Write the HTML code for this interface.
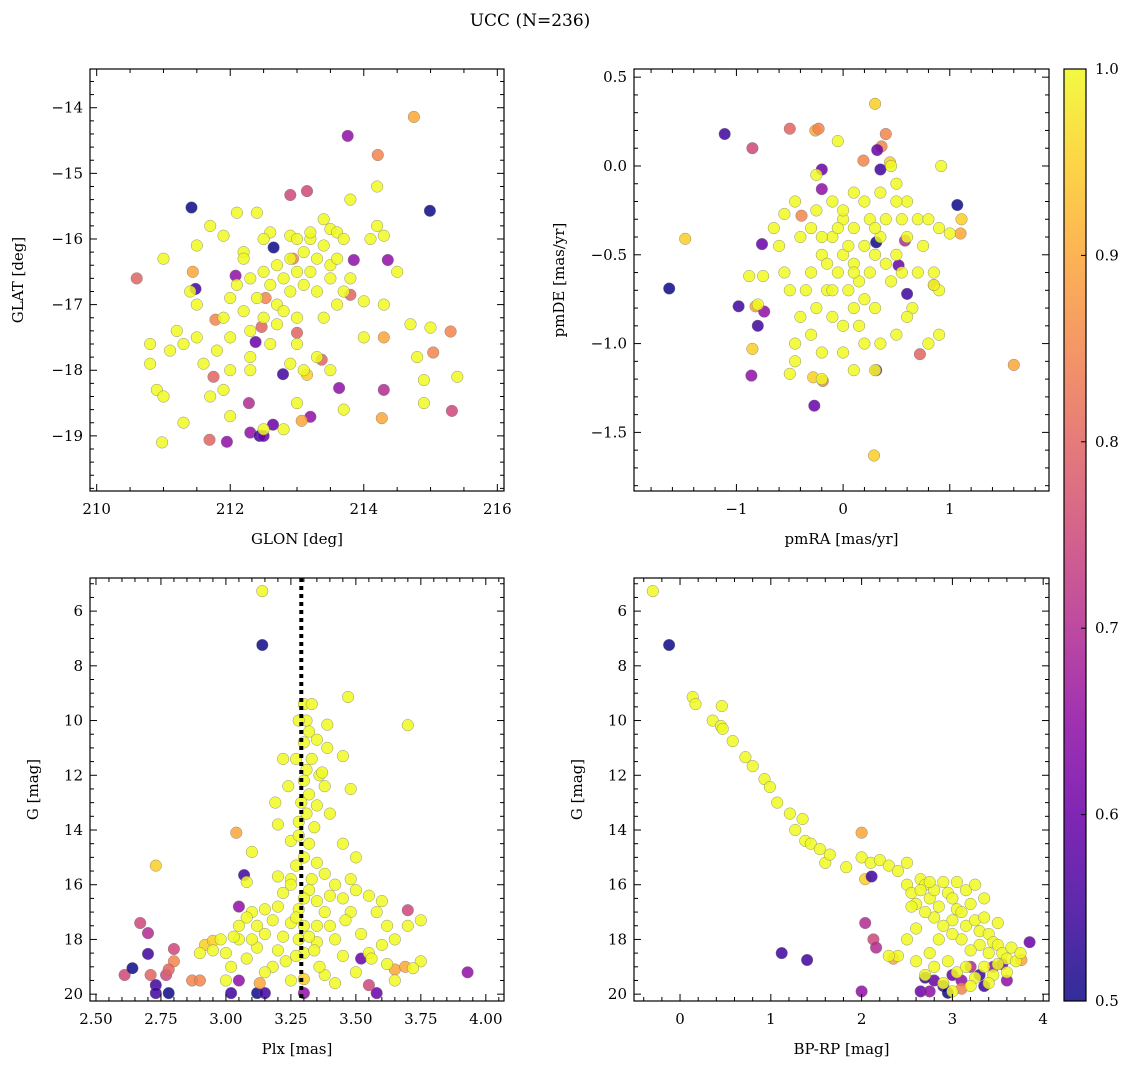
<!DOCTYPE html>
<html><head><meta charset="utf-8"><style>
html,body{margin:0;padding:0;background:#fff;}
svg text{font-family:"DejaVu Serif","Liberation Serif",serif;fill:#000;}
</style></head><body>
<svg id="chart" width="1136" height="1068" viewBox="0 0 1136 1068" xmlns="http://www.w3.org/2000/svg">
<defs><linearGradient id="cbgrad" x1="0" y1="1" x2="0" y2="0"></linearGradient></defs>
<text x="530" y="26" font-size="17" text-anchor="middle">UCC (N=236)</text>
</svg>
<script>
// ---- Panel 1: GLON / GLAT ----
const p1Lon = [211.42,211.48,214.99,213.76,214.75,214.21,210.6,212.9,213.15,212.65,212.08,214.36,212.38,212.79,214.3,213.63,212.28,212.3,212.44,212.64,212.5,211.95,211.69,213.2,213.07,213.15,215.04,215.3,215.32,214.27,211.78,211.75,211.44,214.3,213.8,212.53,213.0,213.37,213.85,212.94,212.47,
212.4,212.6,212.9,213.0,213.2,213.4,213.5,213.6,213.7,213.8,213.4,213.3,213.1,212.9,212.7,212.5,212.3,212.1,212.0,212.2,212.4,212.6,212.8,213.0,213.2,213.5,213.6,213.3,213.1,212.9,212.7,212.5,212.3,212.0,211.8,211.5,211.3,211.2,211.1,210.8,210.8,210.9,211.0,211.3,210.98,211.9,212.0,212.5,212.8,213.0,213.5,213.7,213.3,213.0,212.7,212.3,212.0,211.6,211.7,211.0,211.5,211.7,212.1,211.9,212.2,212.2,214.2,214.1,214.3,214.5,214.0,214.3,214.7,214.8,214.9,214.9,215.4,215.0,214.0,213.6,213.8,213.7,212.6,212.9,213.1,212.3,211.5,211.9,211.4,212.5,213.5,213.2,214.2,213.0,212.8,213.4];
const p1Lat = [-15.52,-16.76,-15.57,-14.43,-14.14,-14.72,-16.6,-15.33,-15.27,-16.13,-16.56,-16.32,-17.57,-18.06,-18.3,-18.27,-18.5,-18.95,-19.0,-18.83,-19.0,-19.09,-19.06,-18.71,-18.77,-18.07,-17.73,-17.41,-18.62,-18.73,-17.23,-18.1,-16.5,-17.5,-16.85,-16.9,-17.43,-17.84,-16.32,-16.3,-17.34,
-15.6,-15.9,-15.95,-16.0,-16.0,-15.7,-15.85,-15.9,-16.0,-15.4,-16.1,-16.3,-16.2,-16.3,-16.4,-16.5,-16.6,-16.7,-16.9,-17.1,-16.9,-16.7,-16.6,-16.5,-16.5,-16.4,-16.3,-16.8,-16.7,-16.8,-17.0,-17.2,-17.4,-17.5,-17.7,-17.5,-17.6,-17.4,-17.7,-17.6,-17.9,-18.3,-18.4,-18.8,-19.1,-18.3,-18.7,-18.9,-18.9,-18.5,-18.0,-18.6,-17.8,-17.6,-17.3,-17.8,-18.0,-17.9,-18.4,-16.3,-16.1,-15.8,-15.6,-15.95,-16.2,-16.3,-15.8,-16.0,-15.95,-16.5,-16.95,-17.0,-17.3,-17.8,-18.15,-18.5,-18.1,-17.35,-17.5,-17.0,-16.6,-16.8,-17.6,-17.9,-18.0,-18.0,-17.0,-17.2,-16.8,-16.0,-16.6,-15.9,-15.2,-17.2,-17.1,-17.2];
const p1Prob = [0.5,0.55,0.5,0.65,0.9,0.85,0.8,0.75,0.75,0.5,0.65,0.65,0.6,0.55,0.7,0.65,0.7,0.65,0.55,0.6,0.6,0.65,0.8,0.65,0.9,0.95,0.85,0.85,0.75,0.9,0.85,0.8,0.9,0.9,0.8,0.85,0.8,0.8,0.65,0.85,0.8];
// ---- Panel 2: pmRA / pmDE ----
const p2Ra = [-1.11,-1.63,-0.98,-0.82,1.6,0.29,-1.48,1.07,-0.85,-0.5,-0.26,-0.23,0.3,0.4,0.19,0.36,0.44,0.32,0.35,-0.2,-0.2,-0.76,-0.74,-0.8,-0.85,-0.86,-0.27,-0.19,-0.28,0.31,0.72,0.31,0.58,0.52,0.6,0.85,-0.39,1.1,1.11,
0,0.1,-0.1,0.2,-0.2,0,0.1,-0.05,0.15,-0.15,0.05,0.25,0.3,0.35,0.4,-0.3,-0.35,-0.25,-0.1,0,0.1,0.2,0.3,0.45,0.5,0.55,0.6,0.7,0.8,0.9,0.75,0.7,0.65,0.6,0.85,0.9,0.9,0.8,0.5,0.35,0.2,0,-0.2,-0.3,-0.45,-0.45,-0.5,-0.4,-0.5,-0.55,-0.6,-0.65,-0.75,-0.88,-0.8,-0.55,-0.45,-0.25,-0.3,-0.4,-0.25,0.1,0,-0.1,0.2,0.35,0.45,0.5,0.5,0.92,0.6,0.25,0.3,-0.05,0.1,0.15,-0.15,0.05,-0.05,0.4,0.55,0.3,-0.2,0.85,1.0,-0.2,0.1,-0.1];
const p2De = [0.18,-0.69,-0.79,-0.79,-1.12,-1.63,-0.41,-0.22,0.1,0.21,0.2,0.21,0.35,0.18,0.03,0.11,0.02,0.09,-0.02,-0.02,-0.13,-0.44,-0.82,-0.9,-1.03,-1.18,-1.35,-1.21,-1.19,-1.15,-1.06,-0.43,-0.42,-0.56,-0.72,-0.67,-0.28,-0.38,-0.3,
-0.3,-0.35,-0.4,-0.45,-0.5,-0.5,-0.55,-0.6,-0.65,-0.7,-0.7,-0.6,-0.5,-0.4,-0.3,-0.6,-0.7,-0.8,-0.85,-0.9,-0.8,-0.75,-0.8,-0.65,-0.5,-0.3,-0.2,-0.3,-0.3,-0.35,-0.45,-0.6,-0.8,-0.85,-0.6,-0.7,-0.95,-1.0,-0.95,-1.0,-1.0,-1.05,-1.05,-0.95,-1.0,-1.1,-1.17,-0.85,-0.7,-0.6,-0.45,-0.35,-0.62,-0.62,-0.78,-0.27,-0.2,-0.25,-0.35,-0.4,-0.05,-0.15,-0.25,-0.2,-0.2,-0.15,0.0,-0.1,-0.2,0.0,-0.4,-0.3,-0.35,0.14,-1.15,-0.9,-0.55,-0.45,-0.35,-0.55,-0.6,-1.15,-1.2,-0.67,-0.38,-0.4,-0.6,-0.7];
const p2Prob = [0.55,0.5,0.55,0.9,0.9,0.95,0.95,0.5,0.75,0.8,0.9,0.85,0.95,0.85,0.85,0.85,0.95,0.6,0.55,0.6,0.65,0.6,0.65,0.55,0.95,0.65,0.6,0.85,0.95,0.65,0.8,0.5,0.7,0.6,0.55,0.8,0.85,0.9,0.95];
// ---- Panel 3: Plx / G ----
const p3Plx = [3.14,2.61,2.64,2.67,2.7,2.7,2.71,2.73,2.77,2.73,2.78,2.8,2.8,2.78,2.87,2.9,2.92,2.95,3.02,3.05,3.04,3.07,3.05,2.73,3.93,3.7,3.65,3.58,3.69,3.55,3.52,3.3,3.3,3.12,3.15,3.13,
3.3,3.33,3.31,3.28,3.32,3.3,3.35,3.27,3.33,3.31,3.36,3.3,3.32,3.29,3.35,3.31,3.28,3.34,3.25,3.32,3.47,3.7,3.39,3.39,3.45,3.48,3.37,3.38,3.4,3.45,3.2,3.22,3.24,3.19,3.1,3.08,3.14,3.1,3.05,3.05,3.0,2.98,2.95,2.9,3.02,3.0,3.08,3.12,3.15,3.18,3.2,3.22,3.25,3.27,3.3,3.35,3.38,3.42,3.45,3.48,3.5,3.5,3.55,3.58,3.62,3.6,3.65,3.62,3.7,3.75,3.75,3.72,3.55,3.5,3.45,3.42,3.4,3.38,3.35,3.32,3.28,3.25,3.22,3.2,3.18,3.25,3.3,3.35,3.38,3.42,3.28,3.25,3.2,3.15,3.12,3.1,3.15,3.35,3.4,3.48,3.46,3.52,3.56,3.6,3.65,3.3,3.36,3.28,3.33,3.3,3.27,3.32,3.27,3.34,3.23,3.08,3.03];
const p3G = [7.24,19.3,19.05,17.4,17.77,18.53,19.3,19.67,19.3,19.96,19.96,18.35,18.8,19.1,19.5,19.5,18.2,18.05,19.96,19.5,14.1,15.65,16.8,15.3,19.2,16.93,19.1,19.96,19.0,19.67,18.7,19.96,19.45,19.96,19.96,19.6,
9.4,9.4,10.0,10.0,10.4,10.8,10.7,11.4,11.4,11.8,12.0,12.2,12.7,13.0,13.1,13.4,13.7,13.9,14.4,14.5,9.14,10.17,10.15,11.0,11.3,12.5,11.9,12.4,13.4,14.5,13.8,11.4,12.4,13.0,14.8,15.9,5.27,17.0,17.5,18.0,18.5,18.0,18.4,18.5,19.0,19.5,18.7,18.3,17.8,17.3,16.8,16.3,15.8,15.3,15.0,15.2,15.6,16.0,16.5,17.0,16.2,15.0,16.4,17.0,17.5,18.2,18.0,18.9,17.5,17.3,18.8,19.05,18.5,19.2,18.6,18.0,17.5,17.0,16.6,16.2,16.9,17.4,17.9,18.4,19.0,19.5,18.5,18.1,19.3,19.6,18.0,16.0,15.7,16.9,17.5,18.0,19.2,17.5,16.4,15.8,17.3,17.8,18.7,16.6,19.5,17.5,19.0,14.2,15.8,16.5,17.2,17.9,18.6,18.4,18.8,17.2,17.9];
const p3Prob = [0.5,0.75,0.5,0.75,0.7,0.55,0.8,0.55,0.75,0.55,0.5,0.75,0.85,0.8,0.85,0.85,0.95,0.95,0.55,0.65,0.9,0.55,0.65,0.95,0.65,0.75,0.9,0.6,0.9,0.75,0.6,0.65,0.95,0.5,0.55,0.9];
// ---- Panel 4: BP-RP / G ----
const p4Col = [-0.12,1.12,1.4,2.0,2.04,2.13,2.16,2.35,3.85,3.76,2.0,2.04,2.11,2.8,2.9,3.0,3.1,3.2,3.3,3.45,3.55,2.65,2.75,2.95,3.35,3.1,2.7,3.6,
-0.3,0.14,0.17,0.46,0.36,0.45,0.47,0.58,0.72,0.8,0.93,0.99,1.07,1.21,1.27,1.35,1.38,1.44,1.54,1.6,1.65,1.83,2.0,2.1,2.2,2.3,2.4,2.5,2.5,2.55,2.6,2.65,2.7,2.75,2.8,2.85,2.9,2.95,3.0,3.05,3.0,3.1,3.15,3.2,3.25,3.3,3.35,3.4,3.45,3.5,3.55,3.6,3.65,3.7,3.75,3.3,3.2,3.1,3.0,2.9,2.8,2.7,2.6,2.55,2.85,2.75,2.95,3.05,3.15,3.25,3.35,3.45,3.5,3.4,2.6,2.7,2.8,2.9,3.0,3.2,3.4,3.6,2.5,2.4,2.3,3.15,3.25,3.05,2.65,2.75,3.35,3.5];
const p4G = [7.24,18.5,18.75,19.9,17.4,18.0,18.3,18.7,18.1,18.75,14.1,15.8,15.7,19.5,19.7,19.3,19.5,19.0,19.3,19.0,18.9,19.9,19.9,19.95,19.7,19.8,19.4,19.5,
5.27,9.14,9.4,9.47,10.0,10.2,10.3,10.75,11.34,11.67,12.14,12.43,13.0,13.4,14.0,13.6,14.4,14.5,14.7,15.2,14.9,15.36,15.0,15.2,15.1,15.3,15.5,15.2,16.0,16.3,16.7,15.8,16.0,16.5,16.2,16.8,15.9,16.3,16.5,16.9,17.3,17.0,17.5,16.7,17.3,17.7,17.2,17.8,18.1,18.2,18.5,18.7,18.3,18.8,18.5,18.2,18.4,18.0,17.8,17.5,17.2,17.0,17.6,16.8,18.0,18.5,18.8,19.2,19.0,19.4,19.0,19.3,18.9,18.5,18.8,19.3,19.0,19.6,19.9,19.7,19.6,19.2,18.0,18.6,18.6,16.2,16.0,15.9,16.2,15.9,16.5,17.4];
const p4Prob = [0.5,0.55,0.55,0.65,0.7,0.75,0.7,0.9,0.6,0.9,0.9,0.95,0.55,0.6,0.55,0.6,0.65,0.7,0.55,0.65,0.6,0.6,0.65,0.5,0.55,0.85,0.55,0.65];
// colorbar ticks
const cbTicks = [0.5,0.6,0.7,0.8,0.9,1.0];

const NS = "http://www.w3.org/2000/svg";
const svg = document.getElementById('chart');
function mk(tag, attrs, parent){ const e=document.createElementNS(NS,tag); for(const k in attrs) e.setAttribute(k,attrs[k]); (parent||svg).appendChild(e); return e; }
const stops = [[0,[13,8,135]],[0.1,[65,4,157]],[0.2,[106,0,168]],[0.3,[143,13,164]],[0.4,[177,42,144]],[0.5,[204,71,120]],[0.6,[225,100,98]],[0.7,[242,132,75]],[0.8,[252,166,54]],[0.9,[252,206,37]],[1,[240,249,33]]];
function plasma(t){ t=Math.max(0,Math.min(1,t)); for(let i=1;i<stops.length;i++){ if(t<=stops[i][0]){ const a=stops[i-1],b=stops[i],f=(t-a[0])/(b[0]-a[0]); const c=a[1].map((v,j)=>Math.round(v+(b[1][j]-v)*f)); return `rgb(${c[0]},${c[1]},${c[2]})`; } } return 'rgb(240,249,33)'; }
function pcol(p){ return plasma((p-0.5)/0.5); }
function fmt(v,dec){ const s=Math.abs(v).toFixed(dec); return (v< -1e-9?'\u2212':'')+s; }

function panel(o){
  const g=mk('g',{});
  
  
  const X=v=>o.x0+(v-o.xmin)/(o.xmax-o.xmin)*(o.x1-o.x0);
  const Y=v=>o.yinv? o.y0+(v-o.ymin)/(o.ymax-o.ymin)*(o.y1-o.y0) : o.y1-(v-o.ymin)/(o.ymax-o.ymin)*(o.y1-o.y0);
  const pg=mk('g',{},g);
  
  
  for(let i=0;i<o.xs.length;i++){
    const p = i<o.ps.length? o.ps[i] : 1.0;
    const c=mk('circle',{cx:X(o.xs[i]).toFixed(1),cy:Y(o.ys[i]).toFixed(1),r:5.8,fill:pcol(p),'fill-opacity':0.85,stroke:'#777','stroke-width':0.4},pg);
    
    
  }
  if(o.vline!==undefined){
    const l=mk('line',{x1:X(o.vline),x2:X(o.vline),y1:o.y0,y2:o.y1,stroke:'#000','stroke-width':4,'stroke-dasharray':'4,4'},g);
    
    
  }
  const fr=mk('rect',{x:o.x0,y:o.y0,width:o.x1-o.x0,height:o.y1-o.y0,fill:'none',stroke:'#000','stroke-width':1.2},g);
  
  
  const tg=mk('g',{stroke:'#000','stroke-width':1},g);
  const eps=1e-6;
  for(let v=Math.ceil(o.xmin/o.xminor)*o.xminor; v<=o.xmax+eps; v+=o.xminor){
    const major=Math.abs(v/o.xmajor-Math.round(v/o.xmajor))<1e-4; const L=major?7:4; const x=X(v);
    mk('line',{x1:x,x2:x,y1:o.y1,y2:o.y1-L},tg); mk('line',{x1:x,x2:x,y1:o.y0,y2:o.y0+L},tg);
    if(major){ const t=mk('text',{x:x,y:o.y1+23,'font-size':15,'text-anchor':'middle'},g); t.textContent=fmt(Math.round(v/o.xmajor)*o.xmajor,o.xdec);
        }
  }
  for(let v=Math.ceil(o.ymin/o.yminor)*o.yminor; v<=o.ymax+eps; v+=o.yminor){
    const major=Math.abs(v/o.ymajor-Math.round(v/o.ymajor))<1e-4; const L=major?7:4; const y=Y(v);
    mk('line',{x1:o.x0,x2:o.x0+L,y1:y,y2:y},tg); mk('line',{x1:o.x1,x2:o.x1-L,y1:y,y2:y},tg);
    if(major){ const t=mk('text',{x:o.x0-7,y:y+5,'font-size':15,'text-anchor':'end'},g); t.textContent=fmt(Math.round(v/o.ymajor)*o.ymajor,o.ydec);
        }
  }
  const xl=mk('text',{x:(o.x0+o.x1)/2,y:o.y1+53,'font-size':15,'text-anchor':'middle'},g); xl.textContent=o.xlabel;
   
  const yl=mk('text',{x:0,y:0,'font-size':15,'text-anchor':'middle',transform:`translate(${o.ylx},${(o.y0+o.y1)/2}) rotate(-90)`},g); yl.textContent=o.ylabel;
   
}
panel({name:'glon-glat-panel',x0:90,x1:504,y0:69,y1:491,xmin:209.9,xmax:216.1,ymin:-19.84,ymax:-13.41,xmajor:2,xminor:0.5,ymajor:1,yminor:0.2,xdec:0,ydec:0,xs:p1Lon,ys:p1Lat,ps:p1Prob,xlabel:'GLON [deg]',ylabel:'GLAT [deg]',ylx:23});
panel({name:'pm-panel',x0:634,x1:1049,y0:69,y1:491,xmin:-1.96,xmax:1.93,ymin:-1.83,ymax:0.546,xmajor:1,xminor:0.2,ymajor:0.5,yminor:0.1,xdec:0,ydec:1,xs:p2Ra,ys:p2De,ps:p2Prob,xlabel:'pmRA [mas/yr]',ylabel:'pmDE [mas/yr]',ylx:564});
panel({name:'plx-g-panel',x0:90,x1:504,y0:578,y1:1001,xmin:2.477,xmax:4.07,ymin:4.79,ymax:20.25,yinv:true,xmajor:0.25,xminor:0.05,ymajor:2,yminor:0.5,xdec:2,ydec:0,xs:p3Plx,ys:p3G,ps:p3Prob,vline:3.29,xlabel:'Plx [mas]',ylabel:'G [mag]',ylx:38});
panel({name:'cmd-panel',x0:634,x1:1049,y0:578,y1:1001,xmin:-0.507,xmax:4.064,ymin:4.79,ymax:20.25,yinv:true,xmajor:1,xminor:0.2,ymajor:2,yminor:0.5,xdec:0,ydec:0,xs:p4Col,ys:p4G,ps:p4Prob,xlabel:'BP-RP [mag]',ylabel:'G [mag]',ylx:582});
const grad=document.getElementById('cbgrad');
for(let i=0;i<=20;i++){ mk('stop',{offset:(i/20),'stop-color':plasma(i/20),'stop-opacity':0.85},grad); }
const cb=mk('g',{});


mk('rect',{x:1064,y:69,width:22,height:932,fill:'url(#cbgrad)',stroke:'#000','stroke-width':1.2},cb);
cbTicks.forEach(v=>{ const y=1001-(v-0.5)/0.5*932; mk('line',{x1:1086,x2:1081,y1:y,y2:y,stroke:'#000','stroke-width':1},cb);
  const t=mk('text',{x:1095,y:y+5,'font-size':15},cb); t.textContent=v.toFixed(1);
    });
</script>
</body></html>
